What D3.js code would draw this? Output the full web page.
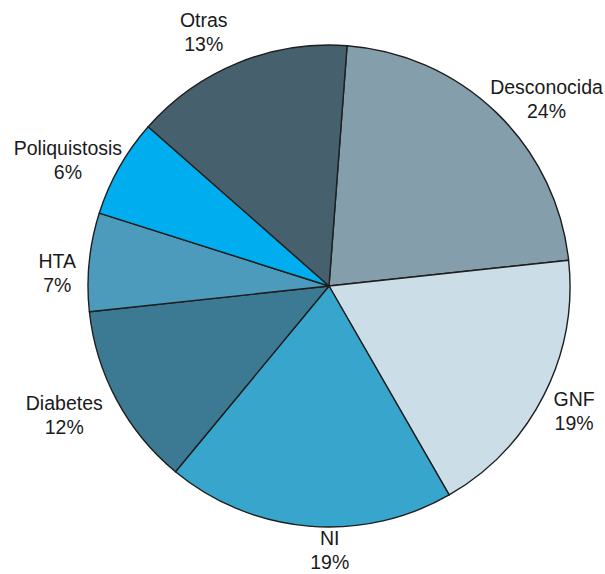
<!DOCTYPE html>
<html>
<head>
<meta charset="utf-8">
<script src="https://cdn.jsdelivr.net/npm/d3@7"></script>
<style>
  html, body { margin: 0; padding: 0; background: #ffffff; }
  svg { display: block; }
  text { font-family: "Liberation Sans", Arial, Helvetica, sans-serif; font-size: 19.5px; fill: #1a1a1a; }
</style>
</head>
<body>
<svg id="chart" width="605" height="574"></svg>
<script>
// Categories in clockwise order starting near 12 o'clock
const categories = ["Desconocida", "GNF", "NI", "Diabetes", "HTA", "Poliquistosis", "Otras"];
// Slice shares as drawn in the picture (%)
const values = [22.1, 18.4, 19.3, 12.3, 6.6, 6.6, 14.7];
// Printed percentage labels
const pctLabels = ["24%", "19%", "19%", "12%", "7%", "6%", "13%"];
const colors = ["#849eab", "#cbdde6", "#38a6cc", "#3c7a94", "#4c9bbd", "#00aeef", "#46606d"];

const W = 605, H = 574;
const cx = 329, cy = 286, R = 241;
const svg = d3.select("#chart");
const g = svg.append("g").attr("transform", `translate(${cx},${cy})`);

const start = 4.3 * Math.PI / 180;
const pie = d3.pie().sort(null).value(d => d.v).startAngle(start).endAngle(start + 2 * Math.PI);
const data = categories.map((c, i) => ({ c, v: values[i], p: pctLabels[i], col: colors[i] }));
const arcs = pie(data);
const arc = d3.arc().innerRadius(0).outerRadius(R);

g.selectAll("path.slice").data(arcs).enter().append("path")
  .attr("class", "slice")
  .attr("d", arc)
  .attr("fill", d => d.data.col)
  .attr("stroke", "#1e1e1e")
  .attr("stroke-width", 1.4)
  .attr("stroke-linejoin", "round");

// label placement: radius and angular nudge (degrees) around each slice's mid-angle
const labelPos = {
  "Desconocida": [287, 5.2],
  "GNF": [275, 0],
  "NI": [264.5, -5],
  "Diabetes": [294.5, 2.3],
  "HTA": [272, -3.0],
  "Poliquistosis": [290, -3.7],
  "Otras": [283, -4.1]
};
arcs.forEach(d => {
  const n = labelPos[d.data.c];
  const a = (d.startAngle + d.endAngle) / 2 + n[1] * Math.PI / 180;
  const x = Math.sin(a) * n[0];
  const y = -Math.cos(a) * n[0];
  const t = g.append("text").attr("text-anchor", "middle")
    .attr("transform", `translate(${x},${y})`);
  t.append("tspan").attr("x", 0).attr("y", -5).text(d.data.c);
  t.append("tspan").attr("x", 0).attr("y", 19).text(d.data.p);
});
</script>
</body>
</html>
